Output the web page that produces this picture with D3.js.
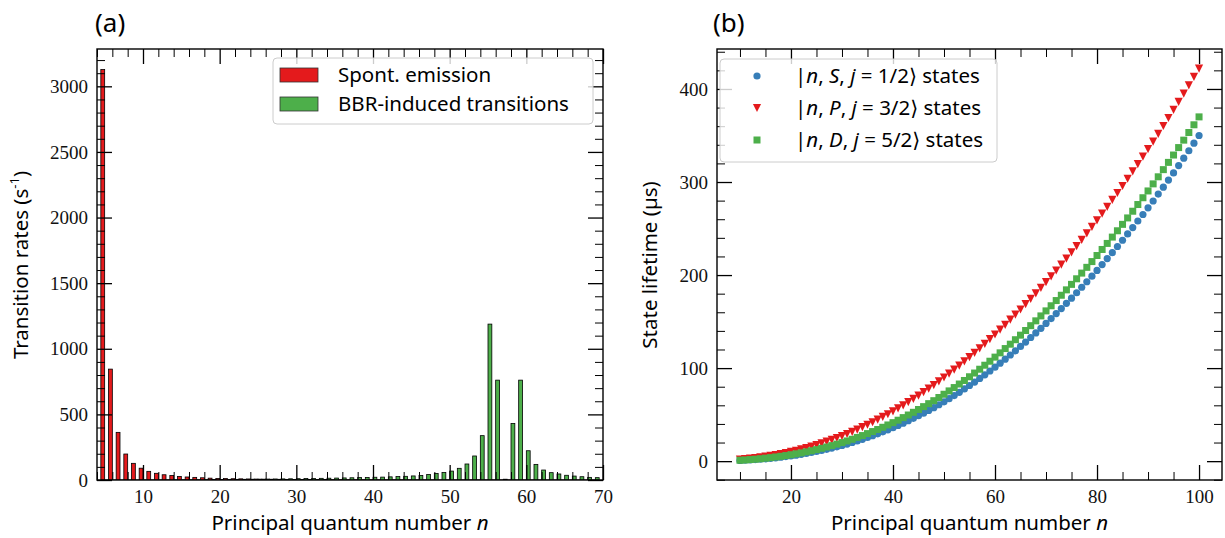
<!DOCTYPE html>
<html>
<head>
<meta charset="utf-8">
<script src="https://cdn.jsdelivr.net/npm/d3@7"></script>
<style>
  body { margin: 0; background: #fff; }
  svg { display: block; }
  .tick text { font-family: "Liberation Serif", "Times New Roman", serif; font-size: 19px; fill: #111; }
  .lbl { font-family: "Noto Sans", "DejaVu Sans", sans-serif; fill: #000; }
</style>
</head>
<body>
<svg id="fig" width="1225" height="538"></svg>
<script>
// ---------- (a) transition rates out of the state, per final principal quantum number ----------
const barN = [5,6,7,8,9,10,11,12,13,14,15,16,17,18,19,20,21,22,23,24,25,26,27,28,29,30,31,32,33,34,35,36,37,
  38,39,40,41,42,43,44,45,46,47,48,49,50,51,52,53,54,55,56,57,58,59,60,61,62,63,64,65,66,67,68,69];
const spontRates = [3128,845,363,198,127,90,66,51,40,35,27,23,20,17,14,12,11,9.8,8.8,7.9,7.1,6.4,5.8,5.3,4.8,
  4.4,4.0,3.7,3.4,3.2,2.9,2.7,2.5,2.4,2.2,2.1,1.9,1.8,1.7,1.6,1.5,1.4,1.3,1.3,1.2,1.1,1.1,1.0,1.0,0.9,0.9,
  0.8,0.8,0.8,0.7,0.7,0.7,0.6,0.6,0.6,0.6,0.5,0.5,0.5,0.5];
const bbrRates = [0.2,0.3,0.4,0.5,0.6,0.8,1.0,1.2,1.4,1.7,2.0,2.3,2.6,3.0,3.4,3.8,4.3,4.8,5.3,5.9,6.5,7.1,7.8,
  8.5,9.2,10,11,11.8,12.7,13.7,14.7,15.8,17,18.3,19.7,21,22,24,26,28,31,35,42,50,57,68,89,122,183,338,1188,
  761,6,431,761,223,119,76,56,46,36,30,25,20,18];
const rateTicks = [0,500,1000,1500,2000,2500,3000];
const nTicksA = [10,20,30,40,50,60,70];

// ---------- (b) state lifetimes (µs) ----------
const stateN = [10,11,12,13,14,15,16,17,18,19,20,21,22,23,24,25,26,27,28,29,30,31,32,33,34,35,36,37,38,39,
  40,41,42,43,44,45,46,47,48,49,50,51,52,53,54,55,56,57,58,59,60,61,62,63,64,65,66,67,68,69,70,71,72,73,74,
  75,76,77,78,79,80,81,82,83,84,85,86,87,88,89,90,91,92,93,94,95,96,97,98,99,100];
const lifeS = [0.8,1.1,1.4,1.7,2.1,2.5,3.0,3.6,4.2,4.9,5.6,6.4,7.3,8.3,9.3,10.4,11.5,12.7,14.1,15.4,16.9,18.4,
  20.1,21.7,23.5,25.4,27.3,29.4,31.5,33.7,36.0,38.4,40.8,43.4,46.0,48.8,51.6,54.5,57.5,60.6,63.8,67.1,70.5,
  74.0,77.6,81.3,85.0,88.9,92.8,96.9,101.0,105.3,109.6,114.1,118.6,123.3,128.0,132.9,137.8,142.8,148.0,153.2,
  158.6,164.0,169.6,175.2,181.0,186.9,192.8,198.8,205.0,211.3,217.7,224.1,230.7,237.4,244.2,251.0,258.1,
  265.1,272.3,279.6,287.0,294.5,302.1,309.8,317.7,325.6,333.6,341.7,350.0];
const lifeP = [1.6,2.1,2.7,3.3,4.0,4.8,5.6,6.6,7.6,8.7,9.9,11.2,12.6,14.1,15.7,17.3,19.1,20.9,22.9,24.9,27.0,
  29.2,31.5,33.9,36.5,39.1,41.8,44.6,47.5,50.4,53.5,56.7,60.0,63.4,66.9,70.5,74.1,77.9,81.8,85.8,89.9,94.0,
  98.3,102.7,107.2,111.7,116.4,121.2,126.0,131.1,136.1,141.3,146.5,152.0,157.4,163.0,168.7,174.5,180.3,186.3,
  192.4,198.6,204.9,211.3,217.7,224.4,231.0,237.8,244.7,251.8,258.8,266.0,273.3,280.7,288.2,295.7,303.5,
  311.4,319.2,327.2,335.3,343.5,351.8,360.2,368.8,377.5,386.1,395.0,403.9,412.9,421.9];
const lifeD = [1.0,1.3,1.7,2.1,2.6,3.2,3.8,4.5,5.2,6.0,6.9,7.9,8.9,10.0,11.2,12.4,13.8,15.2,16.7,18.3,20.0,
  21.7,23.5,25.5,27.5,29.6,31.8,34.0,36.4,38.9,41.4,44.0,46.8,49.6,52.5,55.5,58.6,61.8,65.0,68.4,71.9,75.5,
  79.1,82.9,86.7,90.7,94.7,98.8,103.1,107.4,111.8,116.4,121.0,125.7,130.5,135.4,140.4,145.6,150.8,156.1,
  161.5,167.0,172.6,178.3,184.1,190.0,196.0,202.1,208.3,214.5,221.0,227.5,234.0,240.8,247.6,254.5,261.4,
  268.6,275.8,283.1,290.4,298.0,305.6,313.3,321.1,329.0,337.0,345.0,353.2,361.5,370.0];
const lifeTicks = [0,100,200,300,400];
const nTicksB = [20,40,60,80,100];

const RED = "#e41a1c", GREEN = "#4daf4a", BLUE = "#377eb8";
const FS = 20.5; // label / legend font size
const svg = d3.select("#fig");

// Draws a boxed axes frame with inward major/minor ticks on all four sides.
function boxAxes(x, y, xMajor, xMinor, yMajor, yMinor) {
  const [x0, x1] = x.range(), [y0, y1] = y.range(); // y0 bottom, y1 top
  const g = svg.append("g");
  const inDom = (s, v) => { const d = s.domain(); return v >= Math.min(d[0], d[1]) - 1e-9 && v <= Math.max(d[0], d[1]) + 1e-9; };
  const minX = xMinor.filter(v => inDom(x, v) && !xMajor.includes(v));
  const minY = yMinor.filter(v => inDom(y, v) && !yMajor.includes(v));
  const MAJ = 15, MIN = 8;
  const specs = [
    [d3.axisBottom(x).tickValues(xMajor).tickSize(-MAJ).tickPadding(10).tickFormat(d3.format("d")), `translate(0,${y0})`, 1.3],
    [d3.axisBottom(x).tickValues(minX).tickSize(-MIN).tickFormat(""), `translate(0,${y0})`, 1],
    [d3.axisTop(x).tickValues(xMajor).tickSize(-MAJ).tickFormat(""), `translate(0,${y1})`, 1.3],
    [d3.axisTop(x).tickValues(minX).tickSize(-MIN).tickFormat(""), `translate(0,${y1})`, 1],
    [d3.axisLeft(y).tickValues(yMajor).tickSize(-MAJ).tickPadding(9).tickFormat(d3.format("d")), `translate(${x0},0)`, 1.3],
    [d3.axisLeft(y).tickValues(minY).tickSize(-MIN).tickFormat(""), `translate(${x0},0)`, 1],
    [d3.axisRight(y).tickValues(yMajor).tickSize(-MAJ).tickFormat(""), `translate(${x1},0)`, 1.3],
    [d3.axisRight(y).tickValues(minY).tickSize(-MIN).tickFormat(""), `translate(${x1},0)`, 1]
  ];
  specs.forEach(([ax, tr, sw]) => {
    const a = g.append("g").attr("transform", tr).call(ax);
    a.select(".domain").remove();
    a.selectAll(".tick line").attr("stroke", "#000").attr("stroke-width", sw);
    a.selectAll(".tick text").attr("font-family", null).attr("font-size", null);
  });
  g.append("rect").attr("x", x0).attr("y", y1).attr("width", x1 - x0).attr("height", y0 - y1)
    .attr("fill", "none").attr("stroke", "#000").attr("stroke-width", 1.4);
  return g;
}

// ================= panel (a) =================
const xA = d3.scaleLinear().domain([4, 70]).range([97, 603]);
const yA = d3.scaleLinear().domain([0, d3.max(spontRates.concat(bbrRates)) * 1.05]).range([480, 49]);

svg.append("clipPath").attr("id", "clipA").append("rect")
  .attr("x", 97).attr("y", 49).attr("width", 506).attr("height", 431);
const barsA = svg.append("g").attr("clip-path", "url(#clipA)");
barsA.selectAll("rect.sp").data(barN).enter().append("rect").attr("class", "sp")
  .attr("x", n => xA(n - 0.5)).attr("width", n => xA(n) - xA(n - 0.5))
  .attr("y", (n, i) => yA(spontRates[i])).attr("height", (n, i) => yA(0) - yA(spontRates[i]))
  .attr("fill", RED).attr("stroke", "#000").attr("stroke-width", 0.8);
barsA.selectAll("rect.bb").data(barN).enter().append("rect").attr("class", "bb")
  .attr("x", n => xA(n)).attr("width", n => xA(n + 0.5) - xA(n))
  .attr("y", (n, i) => yA(bbrRates[i])).attr("height", (n, i) => yA(0) - yA(bbrRates[i]))
  .attr("fill", GREEN).attr("stroke", "#000").attr("stroke-width", 0.8);

boxAxes(xA, yA, nTicksA, d3.range(4, 71, 2), rateTicks, d3.range(0, 3300, 100));

// legend (a)
const legA = svg.append("g");
legA.append("rect").attr("x", 273).attr("y", 58).attr("width", 320).attr("height", 66).attr("rx", 4)
  .attr("fill", "#fff").attr("fill-opacity", 0.8).attr("stroke", "#cccccc");
[["Spont. emission", RED, 75], ["BBR-induced transitions", GREEN, 104]].forEach(([t, c, cy]) => {
  legA.append("rect").attr("x", 280).attr("y", cy - 7).attr("width", 38).attr("height", 14)
    .attr("fill", c).attr("stroke", "#333").attr("stroke-width", 0.8);
  legA.append("text").attr("class", "lbl").attr("x", 338).attr("y", cy).attr("dy", "0.35em")
    .attr("font-size", FS).text(t);
});

// labels (a)
svg.append("text").attr("class", "lbl").attr("x", 95).attr("y", 32).attr("font-size", 26).text("(a)");
const xlabA = svg.append("text").attr("class", "lbl").attr("x", 350).attr("y", 530)
  .attr("text-anchor", "middle").attr("font-size", FS);
xlabA.append("tspan").text("Principal quantum number ");
xlabA.append("tspan").attr("font-style", "italic").text("n");
const ylabA = svg.append("text").attr("class", "lbl").attr("transform", "translate(21,265) rotate(-90)")
  .attr("text-anchor", "middle").attr("dy", "0.35em").attr("font-size", FS);
ylabA.append("tspan").text("Transition rates (s");
ylabA.append("tspan").attr("baseline-shift", "super").attr("font-size", 13).text("-1");
ylabA.append("tspan").text(")");

// ================= panel (b) =================
const allLife = lifeS.concat(lifeP, lifeD);
const lo = d3.min(allLife), hi = d3.max(allLife), pad = (hi - lo) * 0.05;
const nPad = (d3.max(stateN) - d3.min(stateN)) * 0.05;
const xB = d3.scaleLinear().domain([d3.min(stateN) - nPad, d3.max(stateN) + nPad]).range([717, 1222]);
const yB = d3.scaleLinear().domain([lo - pad, hi + pad]).range([480, 49]);

const triDown = s => `M${-s / 2},${-s / 2}L${s / 2},${-s / 2}L0,${s / 2}Z`;
const pts = svg.append("g");
pts.selectAll("circle").data(stateN).enter().append("circle")
  .attr("cx", n => xB(n)).attr("cy", (n, i) => yB(lifeS[i])).attr("r", 3.6).attr("fill", BLUE);
pts.selectAll("path.tri").data(stateN).enter().append("path").attr("class", "tri")
  .attr("transform", (n, i) => `translate(${xB(n)},${yB(lifeP[i])})`).attr("d", triDown(8.2)).attr("fill", RED);
pts.selectAll("rect.sq").data(stateN).enter().append("rect").attr("class", "sq")
  .attr("x", n => xB(n) - 3.5).attr("y", (n, i) => yB(lifeD[i]) - 3.5)
  .attr("width", 7).attr("height", 7).attr("fill", GREEN);

boxAxes(xB, yB, nTicksB, d3.range(5, 106, 5), lifeTicks, d3.range(-40, 460, 20));

// legend (b)
const legB = svg.append("g");
legB.append("rect").attr("x", 720).attr("y", 59).attr("width", 277).attr("height", 103).attr("rx", 4)
  .attr("fill", "#fff").attr("fill-opacity", 0.8).attr("stroke", "#cccccc");
const legRows = [["S", "1/2", 76], ["P", "3/2", 108], ["D", "5/2", 140]];
legB.append("circle").attr("cx", 757).attr("cy", 76).attr("r", 3.6).attr("fill", BLUE);
legB.append("path").attr("transform", "translate(757,108)").attr("d", triDown(8.2)).attr("fill", RED);
legB.append("rect").attr("x", 757 - 3.5).attr("y", 140 - 3.5).attr("width", 7).attr("height", 7).attr("fill", GREEN);
legRows.forEach(([L, j, cy]) => {
  const t = legB.append("text").attr("class", "lbl").attr("x", 795).attr("y", cy).attr("dy", "0.35em").attr("font-size", FS);
  t.append("tspan").text("|");
  t.append("tspan").attr("font-style", "italic").text("n");
  t.append("tspan").text(", ");
  t.append("tspan").attr("font-style", "italic").text(L);
  t.append("tspan").text(", ");
  t.append("tspan").attr("font-style", "italic").text("j");
  t.append("tspan").text(" = " + j + "\u27E9 states");
});

// labels (b)
svg.append("text").attr("class", "lbl").attr("x", 713).attr("y", 32).attr("font-size", 26).text("(b)");
const xlabB = svg.append("text").attr("class", "lbl").attr("x", 969.5).attr("y", 530)
  .attr("text-anchor", "middle").attr("font-size", FS);
xlabB.append("tspan").text("Principal quantum number ");
xlabB.append("tspan").attr("font-style", "italic").text("n");
svg.append("text").attr("class", "lbl").attr("transform", "translate(650,265) rotate(-90)")
  .attr("text-anchor", "middle").attr("dy", "0.35em").attr("font-size", FS).text("State lifetime (\u00B5s)");
</script>
</body>
</html>
